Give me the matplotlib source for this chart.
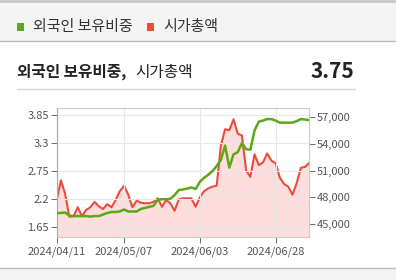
import matplotlib
matplotlib.use("Agg")
import matplotlib.pyplot as plt
from matplotlib.patches import Rectangle
from matplotlib.lines import Line2D
import numpy as np

plt.rcParams['font.family'] = ['Noto Sans CJK KR', 'DejaVu Sans']

# trading days, labels only at a few of them
tick_pos = [0, 16, 34, 52]
tick_labels = ["2024/04/11", "2024/05/07", "2024/06/03", "2024/06/28"]

# 외국인 보유비중 (%)
foreign = [1.93, 1.93, 1.94, 1.88, 1.87, 1.87, 1.87, 1.87, 1.86, 1.87,
           1.87, 1.90, 1.93, 1.95, 1.95, 1.96, 2.00, 1.96, 1.96, 1.96,
           2.01, 2.03, 2.05, 2.07, 2.19, 2.20, 2.20, 2.21, 2.28, 2.38,
           2.39, 2.41, 2.43, 2.40, 2.54, 2.62, 2.68, 2.75, 2.85, 2.97,
           3.25, 2.82, 3.08, 3.12, 3.30, 3.18, 3.17, 3.55, 3.72, 3.74,
           3.77, 3.77, 3.74, 3.70, 3.70, 3.70, 3.70, 3.73, 3.77, 3.76,
           3.75]

# 시가총액
mcap = [47700, 49900, 48400, 45850, 45900, 46900, 45900, 46600, 46900, 47500,
        47000, 46700, 47250, 46900, 47700, 48700, 49300, 48300, 46900, 47650,
        47400, 47350, 47350, 47500, 47900, 46950, 47700, 47350, 46500, 47800,
        47900, 47900, 47900, 46950, 48000, 48700, 49000, 49200, 49300, 53800,
        55600, 55500, 56700, 55100, 54900, 51000, 50300, 52800, 51600, 51900,
        52900, 52100, 51800, 50200, 49500, 49200, 48300, 49600, 51300, 51400,
        51850]

left_ticks = [1.65, 2.2, 2.75, 3.3, 3.85]
right_ticks = [45000, 48000, 51000, 54000, 57000]

green = "#5ca815"
red = "#ec4b3c"

fig = plt.figure(figsize=(3.96, 2.8), dpi=100)
fig.patch.set_facecolor("white")

# header / footer bands
fig.patches.append(Rectangle((0, 1 - 41 / 280), 1, 41 / 280, transform=fig.transFigure,
                             facecolor="#f4f4f4", edgecolor="none", zorder=0))
fig.patches.append(Rectangle((0, 0), 1, 12 / 280, transform=fig.transFigure,
                             facecolor="#f4f4f4", edgecolor="none", zorder=0))
fig.lines.append(Line2D([0, 1], [1 - 41 / 280] * 2, transform=fig.transFigure, color="#bbbbbb", lw=1))
fig.lines.append(Line2D([0, 1], [12 / 280] * 2, transform=fig.transFigure, color="#bbbbbb", lw=1))
fig.lines.append(Line2D([0, 1], [1 - 1 / 280] * 2, transform=fig.transFigure, color="#c8c8c8", lw=2))
fig.lines.append(Line2D([17 / 396, 355 / 396], [1 - 89 / 280] * 2, transform=fig.transFigure,
                        color="#d6d6d6", lw=1))

# legend
fig.patches.append(Rectangle((17 / 396, 1 - 31 / 280), 7 / 396, 8 / 280, transform=fig.transFigure,
                             facecolor=green, edgecolor="none"))
fig.text(33 / 396, 1 - 27 / 280, "외국인 보유비중", fontsize=10.8, color="#333333", va="center")
fig.patches.append(Rectangle((147 / 396, 1 - 31 / 280), 7 / 396, 8 / 280, transform=fig.transFigure,
                             facecolor=red, edgecolor="none"))
fig.text(163 / 396, 1 - 27 / 280, "시가총액", fontsize=10.8, color="#333333", va="center")

# title
fig.text(17 / 396, 1 - 72 / 280, "외국인 보유비중,", fontsize=11.3, fontweight="bold",
         color="#222222", va="center")
fig.text(135 / 396, 1 - 72 / 280, "시가총액", fontsize=11.3, color="#222222", va="center")
fig.text(354 / 396, 1 - 71 / 280, "3.75", fontsize=15, fontweight="bold", color="#222222",
         va="center", ha="right")

ax = fig.add_axes([56.7 / 396, 1 - 236.7 / 280, 252.6 / 396, 128.4 / 280])
ax2 = ax.twinx()

x = np.arange(len(foreign))

ax2.fill_between(x, mcap, 43617, color="#fcdedd", lw=0)
ax2.plot(x, mcap, color=red, lw=1.5)
ax.plot(x, foreign, color=green, lw=1.8, zorder=5)

# green on top of red
ax.set_zorder(ax2.get_zorder() + 1)
ax.patch.set_visible(False)

ax.set_xlim(0, len(foreign) - 1)
ax.set_ylim(1.466, 3.981)
ax2.set_ylim(43617, 57937)

ax.set_xticks(tick_pos)
ax.set_xticklabels(tick_labels)
ax.set_yticks(left_ticks)
ax.set_yticklabels([str(v) for v in left_ticks])
ax2.set_yticks(right_ticks)
ax2.set_yticklabels([f"{v:,}" for v in right_ticks])

ax.grid(True, color="#e8e8e8", lw=0.8)
ax.set_axisbelow(True)

for a in (ax, ax2):
    for s in a.spines.values():
        s.set_color("#cccccc")
        s.set_linewidth(0.8)
ax.spines['left'].set_color("#aaaaaa")

ax.tick_params(axis='both', labelsize=8, colors="#555555", length=4, width=0.6, pad=1.5)
ax2.tick_params(axis='y', labelsize=8, colors="#555555", length=4, width=0.6, pad=1.5)
ax.tick_params(axis='x', pad=3)

fig.savefig("out.png", dpi=100)
